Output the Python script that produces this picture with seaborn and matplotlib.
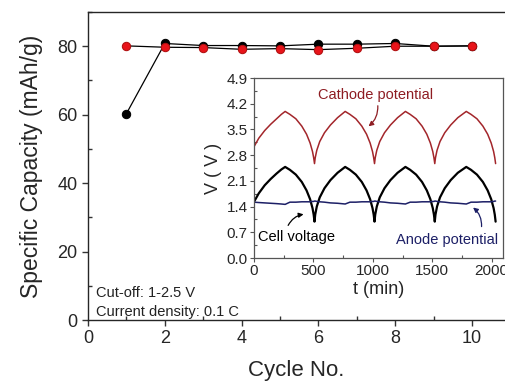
import numpy as np
import pandas as pd
import seaborn as sns
import matplotlib.pyplot as plt
from matplotlib.ticker import MultipleLocator

# main plot: specific capacity per cycle
cycles = [1, 2, 3, 4, 5, 6, 7, 8, 9, 10]
cap_black = [60.3, 80.8, 80.2, 80.2, 80.1, 80.6, 80.6, 80.8, 80.0, 80.1]
cap_red = [80.1, 79.7, 79.6, 79.1, 79.3, 79.0, 79.4, 80.0, 80.0, 80.1]

# inset: potentials vs time (min)
t_min = [0, 40, 90, 140, 190, 230, 262,
         302, 352, 402, 442, 472, 492, 502, 509,
         515, 528, 553, 593, 643, 703, 767,
         807, 857, 907, 947, 977, 997, 1007, 1014,
         1020, 1033, 1058, 1098, 1148, 1208, 1274,
         1314, 1364, 1414, 1454, 1484, 1504, 1514, 1521,
         1527, 1540, 1565, 1605, 1655, 1715, 1786,
         1826, 1876, 1926, 1966, 1996, 2016, 2026, 2033]
cell_v = [1.53, 1.76, 1.98, 2.15, 2.30, 2.41, 2.48,
          2.40, 2.27, 2.07, 1.84, 1.60, 1.36, 1.18, 0.99,
          1.18, 1.40, 1.65, 1.90, 2.12, 2.32, 2.48,
          2.40, 2.27, 2.07, 1.84, 1.60, 1.36, 1.18, 0.99,
          1.18, 1.40, 1.65, 1.90, 2.12, 2.32, 2.48,
          2.40, 2.27, 2.07, 1.84, 1.60, 1.36, 1.18, 0.99,
          1.18, 1.40, 1.65, 1.90, 2.12, 2.32, 2.48,
          2.40, 2.27, 2.07, 1.84, 1.60, 1.36, 1.18, 0.99]
cathode_v = [3.03, 3.26, 3.47, 3.64, 3.79, 3.91, 3.99,
             3.91, 3.79, 3.59, 3.37, 3.13, 2.90, 2.73, 2.57,
             2.73, 2.93, 3.17, 3.41, 3.62, 3.82, 3.99,
             3.91, 3.79, 3.59, 3.37, 3.13, 2.90, 2.73, 2.57,
             2.73, 2.93, 3.17, 3.41, 3.62, 3.82, 3.99,
             3.91, 3.79, 3.59, 3.37, 3.13, 2.90, 2.73, 2.57,
             2.73, 2.93, 3.17, 3.41, 3.62, 3.82, 3.99,
             3.91, 3.79, 3.59, 3.37, 3.13, 2.90, 2.73, 2.57]
anode_v = [1.52, 1.51, 1.50, 1.49, 1.48, 1.47, 1.46,
           1.52, 1.52, 1.53, 1.53, 1.53, 1.54, 1.54, 1.55,
           1.55, 1.54, 1.53, 1.52, 1.50, 1.49, 1.47,
           1.52, 1.52, 1.53, 1.53, 1.53, 1.54, 1.54, 1.55,
           1.55, 1.54, 1.53, 1.52, 1.50, 1.49, 1.47,
           1.52, 1.52, 1.53, 1.53, 1.53, 1.54, 1.54, 1.55,
           1.55, 1.54, 1.53, 1.52, 1.50, 1.49, 1.47,
           1.52, 1.52, 1.53, 1.53, 1.53, 1.54, 1.55, 1.55]

df_cap = pd.DataFrame({'cycle': cycles, 'black': cap_black, 'red': cap_red})
df_pot = pd.DataFrame({'t': t_min, 'cell': cell_v, 'cathode': cathode_v, 'anode': anode_v})

sns.set_theme(style="ticks")
plt.rcParams['font.family'] = ['Liberation Sans', 'DejaVu Sans']
plt.rcParams['axes.linewidth'] = 1.0

fig = plt.figure(figsize=(5.05, 3.82), dpi=100)
ax = fig.add_axes([0.1743, 0.1623, 0.8257, 0.8063])

sns.lineplot(data=df_cap, x='cycle', y='black', ax=ax, color='black', lw=0.9,
             marker='o', markersize=6, markerfacecolor='black', markeredgecolor='black')
sns.lineplot(data=df_cap, x='cycle', y='red', ax=ax, color='black', lw=0.9,
             marker='o', markersize=6, markerfacecolor='#e8141a', markeredgecolor='#b01010')

ax.set_xlim(0, 10.86)
ax.set_ylim(0, 90)
ax.xaxis.set_major_locator(MultipleLocator(2))
ax.xaxis.set_minor_locator(MultipleLocator(1))
ax.yaxis.set_major_locator(MultipleLocator(20))
ax.yaxis.set_minor_locator(MultipleLocator(10))
ax.tick_params(which='major', direction='out', length=4, width=1, labelsize=13, color='#333333')
ax.tick_params(which='minor', direction='in', length=3, width=1, color='#333333')
ax.spines['right'].set_visible(False)
ax.set_xlabel('Cycle No.', fontsize=16, labelpad=9)
ax.set_ylabel('Specific Capacity (mAh/g)', fontsize=16.5, labelpad=10)
ax.text(0.2, 7.9, 'Cut-off: 1-2.5 V', fontsize=10.5, va='center', color='#222222')
ax.text(0.2, 2.4, 'Current density: 0.1 C', fontsize=10.5, va='center', color='#222222')

# inset
axin = fig.add_axes([0.503, 0.3246, 0.493, 0.4712])
axin.set_facecolor('white')
sns.lineplot(data=df_pot, x='t', y='cathode', ax=axin, color='#a3262b', lw=1.1, sort=False)
sns.lineplot(data=df_pot, x='t', y='cell', ax=axin, color='black', lw=1.6, sort=False)
sns.lineplot(data=df_pot, x='t', y='anode', ax=axin, color='#1c1f66', lw=1.1, sort=False)
axin.set_xlim(0, 2095)
axin.set_ylim(0, 4.9)
axin.xaxis.set_major_locator(MultipleLocator(500))
axin.xaxis.set_minor_locator(MultipleLocator(250))
axin.yaxis.set_major_locator(MultipleLocator(0.7))
axin.yaxis.set_minor_locator(MultipleLocator(0.35))
axin.yaxis.set_major_formatter(plt.FormatStrFormatter('%.1f'))
axin.tick_params(which='major', direction='out', length=3, width=0.8, labelsize=11, pad=1.5, color='#555555')
axin.tick_params(which='minor', direction='in', length=2, width=0.8, color='#555555')
for s in axin.spines.values():
    s.set_color('#555555')
    s.set_linewidth(0.9)
axin.set_xlabel('t (min)', fontsize=13, labelpad=2)
axin.set_ylabel('V ( V )', fontsize=13, labelpad=3)

axin.text(1020, 4.44, 'Cathode potential', color='#8e1c22', fontsize=10.5, ha='center', va='center')
axin.text(357, 0.58, 'Cell voltage', color='black', fontsize=10.5, ha='center', va='center')
axin.text(1195, 0.49, 'Anode potential', color='#1c1f66', fontsize=10.5, ha='left', va='center')

axin.annotate('', xy=(945, 3.54), xytext=(1040, 4.22),
              arrowprops=dict(arrowstyle='-|>', color='#8e1c22', lw=0.9, mutation_scale=7,
                              connectionstyle='arc3,rad=-0.3'))
axin.annotate('', xy=(440, 1.2), xytext=(277, 0.82),
              arrowprops=dict(arrowstyle='-|>', color='black', lw=0.9, mutation_scale=7,
                              connectionstyle='arc3,rad=-0.3'))
axin.annotate('', xy=(1825, 1.42), xytext=(1913, 0.78),
              arrowprops=dict(arrowstyle='-|>', color='#1c1f66', lw=0.9, mutation_scale=7,
                              connectionstyle='arc3,rad=0.3'))

plt.savefig('out.png', dpi=100)
